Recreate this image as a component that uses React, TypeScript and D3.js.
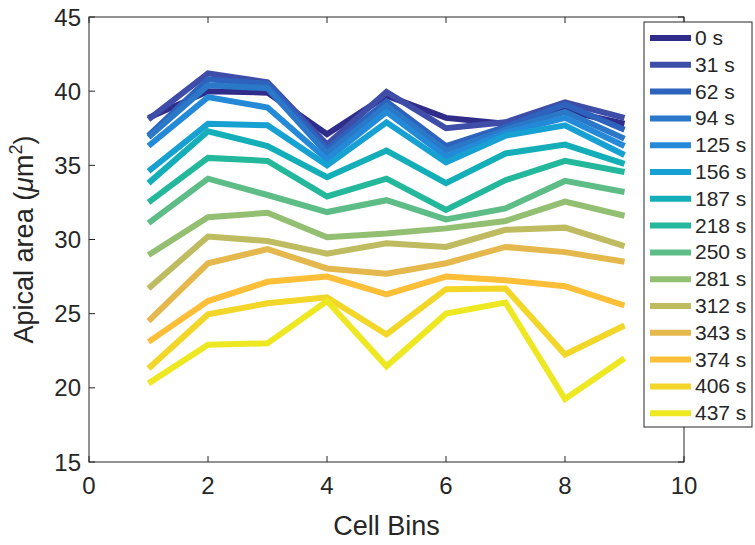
import React from "react";
import * as d3 from "d3";

// Data
const cellBins = [1, 2, 3, 4, 5, 6, 7, 8, 9];
const timeLabels = ["0 s", "31 s", "62 s", "94 s", "125 s", "156 s", "187 s", "218 s", "250 s", "281 s", "312 s", "343 s", "374 s", "406 s", "437 s"];
const t0 = [38.2, 40.0, 39.9, 37.1, 39.7, 38.2, 37.8, 38.7, 37.8];
const t31 = [38.1, 41.2, 40.6, 36.4, 39.95, 37.5, 37.9, 39.25, 38.2];
const t62 = [37.0, 40.8, 40.5, 36.1, 39.3, 36.3, 37.6, 39.1, 37.4];
const t94 = [36.9, 40.4, 40.2, 35.8, 39.0, 36.0, 37.4, 38.6, 36.8];
const t125 = [36.3, 39.6, 38.9, 35.4, 38.6, 35.6, 37.2, 38.2, 36.3];
const t156 = [34.6, 37.8, 37.7, 35.0, 37.9, 35.2, 37.0, 37.7, 35.7];
const t187 = [33.8, 37.3, 36.3, 34.2, 36.0, 33.8, 35.8, 36.4, 35.1];
const t218 = [32.5, 35.5, 35.3, 32.9, 34.1, 32.0, 34.0, 35.3, 34.55];
const t250 = [31.1, 34.1, 33.0, 31.85, 32.65, 31.35, 32.1, 33.95, 33.2];
const t281 = [28.95, 31.5, 31.8, 30.15, 30.4, 30.75, 31.25, 32.55, 31.6];
const t312 = [26.7, 30.2, 29.9, 29.05, 29.75, 29.5, 30.65, 30.8, 29.55];
const t343 = [24.5, 28.4, 29.35, 28.05, 27.7, 28.4, 29.5, 29.15, 28.5];
const t374 = [23.1, 25.85, 27.15, 27.5, 26.3, 27.5, 27.25, 26.85, 25.55];
const t406 = [21.3, 24.95, 25.7, 26.1, 23.6, 26.65, 26.7, 22.25, 24.2];
const t437 = [20.3, 22.9, 23.0, 25.85, 21.45, 25.0, 25.75, 19.25, 22.0];
const seriesValues = [t0, t31, t62, t94, t125, t156, t187, t218, t250, t281, t312, t343, t374, t406, t437];
const seriesColors = ["#2F2C8A", "#3D4DA8", "#2D62BD", "#2A78C7", "#2489D6", "#17A1D2", "#14AEB8", "#23B79B", "#5EBD86", "#93BF72", "#BEBB61", "#E4B84C", "#FDBE38", "#F2D628", "#EEE822"];
const xTicks = [0, 2, 4, 6, 8, 10];
const yTicks = [15, 20, 25, 30, 35, 40, 45];

const W = 755, H = 545;
const L = 89, R = 684, T = 17, B = 462;
const axisColor = "#262626";
const font = "'Liberation Sans', Arial, Helvetica, sans-serif";

export default function App() {
  const x = d3.scaleLinear().domain([0, 10]).range([L, R]);
  const y = d3.scaleLinear().domain([15, 45]).range([B, T]);
  const line = d3.line<number>().x((_, i) => x(cellBins[i])).y((d) => y(d));
  const tickLen = 6;
  const legX = 644, legY = 22, legW = 108, rowH = 26.8;
  const legH = rowH * timeLabels.length + 3;
  return (
    <svg width={W} height={H} style={{ position: "absolute", left: 0, top: 0, background: "#fff" }} fontFamily={font}>
      <rect x={0} y={0} width={W} height={H} fill="#fff" />
      {seriesValues.map((vals, i) => (
        <path key={i} d={line(vals) || ""} fill="none" stroke={seriesColors[i]} strokeWidth={6} strokeLinejoin="miter" strokeLinecap="butt" />
      ))}
      <rect x={L} y={T} width={R - L} height={B - T} fill="none" stroke={axisColor} strokeWidth={1} />
      {xTicks.map((t) => (
        <g key={"x" + t}>
          <line x1={x(t)} x2={x(t)} y1={B} y2={B - tickLen} stroke={axisColor} />
          <line x1={x(t)} x2={x(t)} y1={T} y2={T + tickLen} stroke={axisColor} />
          <text x={x(t)} y={B + 32} fontSize={24} fill={axisColor} textAnchor="middle">{t}</text>
        </g>
      ))}
      {yTicks.map((t) => (
        <g key={"y" + t}>
          <line x1={L} x2={L + tickLen} y1={y(t)} y2={y(t)} stroke={axisColor} />
          <line x1={R} x2={R - tickLen} y1={y(t)} y2={y(t)} stroke={axisColor} />
          <text x={L - 8} y={y(t) + 8.5} fontSize={24} fill={axisColor} textAnchor="end">{t}</text>
        </g>
      ))}
      <text x={(L + R) / 2} y={535} fontSize={27} fill={axisColor} textAnchor="middle">Cell Bins</text>
      <text transform={`translate(33, ${(T + B) / 2}) rotate(-90)`} fontSize={27} fill={axisColor} textAnchor="middle">
        Apical area (<tspan fontStyle="italic">μ</tspan>m<tspan dy={-11} fontSize={18}>2</tspan><tspan dy={11}>)</tspan>
      </text>
      <rect x={legX} y={legY} width={legW} height={legH} fill="#fff" stroke={axisColor} strokeWidth={1} />
      {timeLabels.map((lab, i) => {
        const cy = legY + 16 + i * rowH;
        return (
          <g key={lab}>
            <line x1={legX + 6} x2={legX + 47} y1={cy} y2={cy} stroke={seriesColors[i]} strokeWidth={6} />
            <text x={legX + 51} y={cy + 7} fontSize={21} fill={axisColor}>{lab}</text>
          </g>
        );
      })}
    </svg>
  );
}
